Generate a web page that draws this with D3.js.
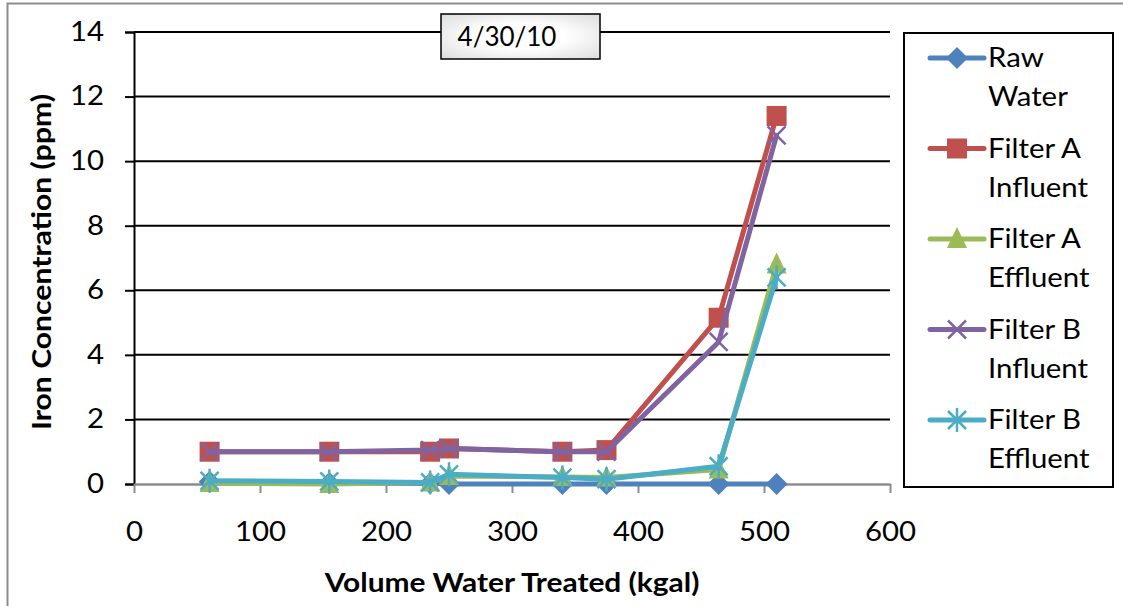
<!DOCTYPE html>
<html>
<head>
<meta charset="utf-8">
<script src="https://cdn.jsdelivr.net/npm/d3@7"></script>
<style>
  html, body { margin: 0; padding: 0; background: #fff; }
  svg { display: block; font-family: Lato, "Open Sans", sans-serif; }
</style>
</head>
<body>
<svg id="chart" width="1123" height="606"></svg>
<script>
// Sampled volumes (kgal) and iron readings (ppm) for each sampling point
const volumes = [60, 155, 235, 250, 340, 375, 464, 510];
const rawWater        = [0.07, 0.03, 0.02, 0, 0, 0, 0, 0];
const filterAInfluent = [1.0, 1.0, 1.0, 1.1, 1.0, 1.05, 5.15, 11.4];
const filterAEffluent = [0.03, 0.0, 0.05, 0.25, 0.22, 0.2, 0.45, 6.8];
const filterBInfluent = [1.0, 1.0, 1.05, 1.1, 1.0, 1.0, 4.4, 10.8];
const filterBEffluent = [0.1, 0.08, 0.05, 0.3, 0.2, 0.15, 0.55, 6.4];
const xTicks = [0, 100, 200, 300, 400, 500, 600];
const yTicks = [0, 2, 4, 6, 8, 10, 12, 14];
const seriesNames = [["Raw", "Water"], ["Filter A", "Influent"], ["Filter A", "Effluent"], ["Filter B", "Influent"], ["Filter B", "Effluent"]];
const chartTitle = "4/30/10";

const series = [
  { name: seriesNames[0], values: rawWater,        color: "#4F81BD", marker: "diamond" },
  { name: seriesNames[1], values: filterAInfluent, color: "#C0504D", marker: "square" },
  { name: seriesNames[2], values: filterAEffluent, color: "#9BBB59", marker: "triangle" },
  { name: seriesNames[3], values: filterBInfluent, color: "#8064A2", marker: "x" },
  { name: seriesNames[4], values: filterBEffluent, color: "#4BACC6", marker: "star" }
];

const svg = d3.select("#chart");
const plot = { left: 134, right: 890, top: 32, bottom: 484 };
const widen = 1.13; // horizontal stretch applied to labels

// outer chart frame
svg.append("rect")
  .attr("x", 7.5).attr("y", 3.5).attr("width", 1130).attr("height", 620)
  .attr("fill", "#fff").attr("stroke", "#8c8c8c").attr("stroke-width", 2);

const x = d3.scaleLinear().domain([0, 600]).range([plot.left, plot.right]);
const y = d3.scaleLinear().domain([0, 14]).range([plot.bottom, plot.top]);

// horizontal gridlines
svg.append("g").selectAll("line")
  .data(yTicks.filter(t => t > 0))
  .join("line")
  .attr("x1", plot.left).attr("x2", plot.right)
  .attr("y1", d => y(d)).attr("y2", d => y(d))
  .attr("stroke", "#000").attr("stroke-width", 2);

// y axis
const yAxis = svg.append("g")
  .attr("transform", `translate(${plot.left},0)`)
  .call(d3.axisLeft(y).tickValues(yTicks).tickSize(9).tickPadding(0).tickFormat(d3.format("d")));
yAxis.select(".domain").attr("stroke", "#000").attr("stroke-width", 2);
yAxis.selectAll(".tick line").attr("stroke", "#000").attr("stroke-width", 2);
yAxis.selectAll("text")
  .attr("x", 0)
  .attr("transform", `translate(-30,0) scale(${widen},1)`)
  .attr("font-size", 26).attr("fill", "#000").attr("font-family", "Lato, sans-serif");

// x axis
const xAxis = svg.append("g")
  .attr("transform", `translate(0,${plot.bottom})`)
  .call(d3.axisBottom(x).tickValues(xTicks).tickSize(9).tickPadding(30).tickSizeOuter(0));
xAxis.select(".domain").attr("stroke", "#8c8c8c").attr("stroke-width", 2.5);
xAxis.selectAll(".tick line").attr("stroke", "#8c8c8c").attr("stroke-width", 2);
xAxis.selectAll("text")
  .attr("transform", `scale(${widen},1)`)
  .attr("font-size", 26).attr("fill", "#000").attr("font-family", "Lato, sans-serif");

// axis titles
svg.append("text")
  .attr("transform", `translate(${(plot.left + plot.right) / 2},592) scale(1.15,1)`)
  .attr("text-anchor", "middle").attr("font-size", 26).attr("font-weight", "bold")
  .text("Volume Water Treated (kgal)");
svg.append("text")
  .attr("transform", `translate(51,${(plot.top + plot.bottom) / 2 + 4}) rotate(-90) scale(1.16,1)`)
  .attr("text-anchor", "middle").attr("font-size", 26).attr("font-weight", "bold")
  .text("Iron Concentration (ppm)");

// marker shapes
function drawMarker(g, type, color) {
  if (type === "diamond") {
    g.append("path").attr("d", "M0,-11L11,0L0,11L-11,0Z").attr("fill", color);
  } else if (type === "square") {
    g.append("rect").attr("x", -10).attr("y", -10).attr("width", 20).attr("height", 20).attr("fill", color);
  } else if (type === "triangle") {
    g.append("path").attr("d", "M0,-12L10,9L-10,9Z").attr("fill", color);
  } else if (type === "x") {
    g.append("path").attr("d", "M-9,-9L9,9M-9,9L9,-9").attr("stroke", color).attr("stroke-width", 2.5).attr("fill", "none");
  } else if (type === "star") {
    g.append("path").attr("d", "M-9,-9L9,9M-9,9L9,-9M0,-12L0,12").attr("stroke", color).attr("stroke-width", 2.5).attr("fill", "none");
  }
}

const line = d3.line().x((d, i) => x(volumes[i])).y(d => y(d));

series.forEach(s => {
  const g = svg.append("g");
  g.append("path")
    .datum(s.values)
    .attr("d", line)
    .attr("fill", "none").attr("stroke", s.color).attr("stroke-width", 5)
    .attr("stroke-linejoin", "round").attr("stroke-linecap", "round");
  s.values.forEach((v, i) => {
    const m = g.append("g").attr("transform", `translate(${x(volumes[i])},${y(v)})`);
    drawMarker(m, s.marker, s.color);
  });
});

// title box
const defs = svg.append("defs");
const grad = defs.append("radialGradient").attr("id", "titleFill").attr("cx", "50%").attr("cy", "50%").attr("r", "70%");
grad.append("stop").attr("offset", "40%").attr("stop-color", "#ffffff");
grad.append("stop").attr("offset", "100%").attr("stop-color", "#dcdcdc");
svg.append("rect")
  .attr("x", 441).attr("y", 14).attr("width", 159).attr("height", 45)
  .attr("fill", "url(#titleFill)").attr("stroke", "#000").attr("stroke-width", 1.5);
svg.append("text")
  .attr("transform", "translate(507,46)")
  .attr("text-anchor", "middle").attr("font-size", 26)
  .text(chartTitle);

// legend
svg.append("rect")
  .attr("x", 904).attr("y", 33).attr("width", 209).attr("height", 454)
  .attr("fill", "#fff").attr("stroke", "#000").attr("stroke-width", 2);
const legend = svg.append("g");
series.forEach((s, i) => {
  const cy = 58 + i * 90.5;
  const g = legend.append("g").attr("transform", `translate(0,${cy})`);
  g.append("line").attr("x1", 930).attr("x2", 984).attr("y1", 0).attr("y2", 0)
    .attr("stroke", s.color).attr("stroke-width", 5).attr("stroke-linecap", "round");
  const m = g.append("g").attr("transform", "translate(957,0)");
  drawMarker(m, s.marker, s.color);
  g.append("text").attr("transform", `translate(988,9) scale(${widen},1)`).attr("font-size", 26).text(s.name[0]);
  g.append("text").attr("transform", `translate(988,48) scale(${widen},1)`).attr("font-size", 26).text(s.name[1]);
});
</script>
</body>
</html>
